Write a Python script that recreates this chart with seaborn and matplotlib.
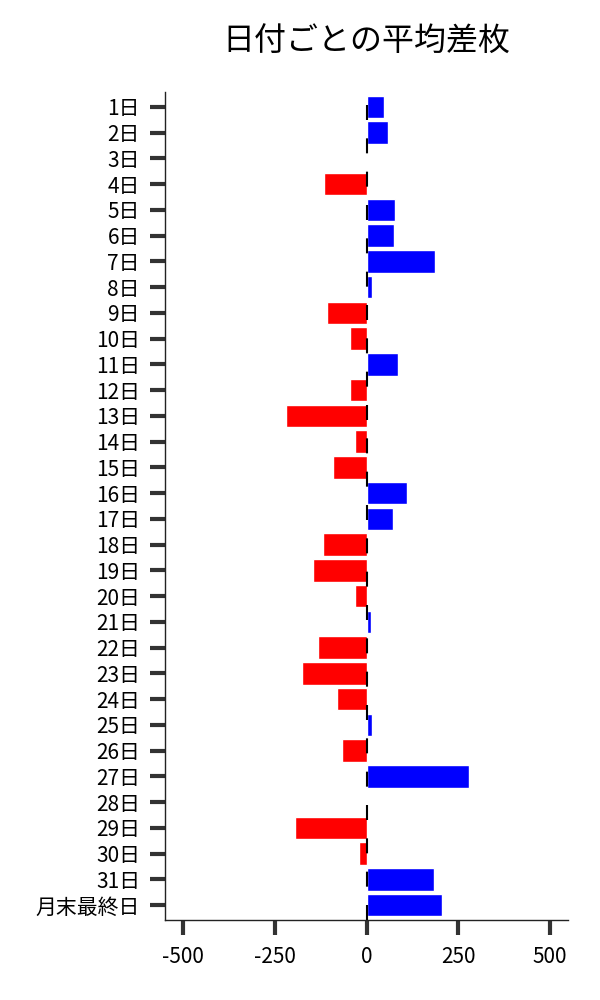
import matplotlib
matplotlib.use("Agg")
import matplotlib.pyplot as plt
import seaborn as sns
import pandas as pd

days = [f"{i}日" for i in range(1, 32)] + ["月末最終日"]
values = [47, 58, -3, -116, 77, 74, 186, 14, -108, -45,
          87, -45, -219, -32, -92, 111, 71, -119, -146, -32,
          11, -132, -176, -81, 16, -67, 280, 0, -195, -21,
          183, 205]
xticks = [-500, -250, 0, 250, 500]

sns.set_style("ticks")
plt.rcParams['font.family'] = ['Noto Sans CJK JP', 'DejaVu Sans']
plt.rcParams['axes.unicode_minus'] = False
plt.rcParams['text.color'] = 'black'
plt.rcParams['xtick.labelcolor'] = 'black'
plt.rcParams['ytick.labelcolor'] = 'black'

df = pd.DataFrame({"day": days, "value": values})
df["sign"] = ["pos" if v >= 0 else "neg" for v in values]

fig = plt.figure(figsize=(6, 10), dpi=100)
ax = fig.add_axes([0.275, 0.08, 0.672, 0.828])

sns.barplot(data=df, x="value", y="day", hue="sign", orient="h",
            palette={"pos": "#0000ff", "neg": "#ff0000"}, dodge=False,
            width=0.87, legend=False, ax=ax, saturation=1)

ax.axvline(0, color="black", lw=1.5, dashes=(7.2, 8.8), zorder=5)

ax.set_xlim(-550, 550)
ax.set_ylim(len(days) - 1 + 0.58, -0.58)
ax.set_xticks(xticks)
ax.set_xticklabels([str(t) for t in xticks])
ax.set_xlabel("")
ax.set_ylabel("")
ax.tick_params(axis="both", length=11, width=3, color="#333333",
               labelsize=15, labelcolor="black")
ax.tick_params(axis="y", pad=7)
ax.tick_params(axis="x", pad=8)
sns.despine(ax=ax)
for s in ["left", "bottom"]:
    ax.spines[s].set_linewidth(1.0)
    ax.spines[s].set_color("#222222")

ax.set_title("日付ごとの平均差枚", fontsize=23, pad=30, color="black")

fig.savefig("out.png", dpi=100)
